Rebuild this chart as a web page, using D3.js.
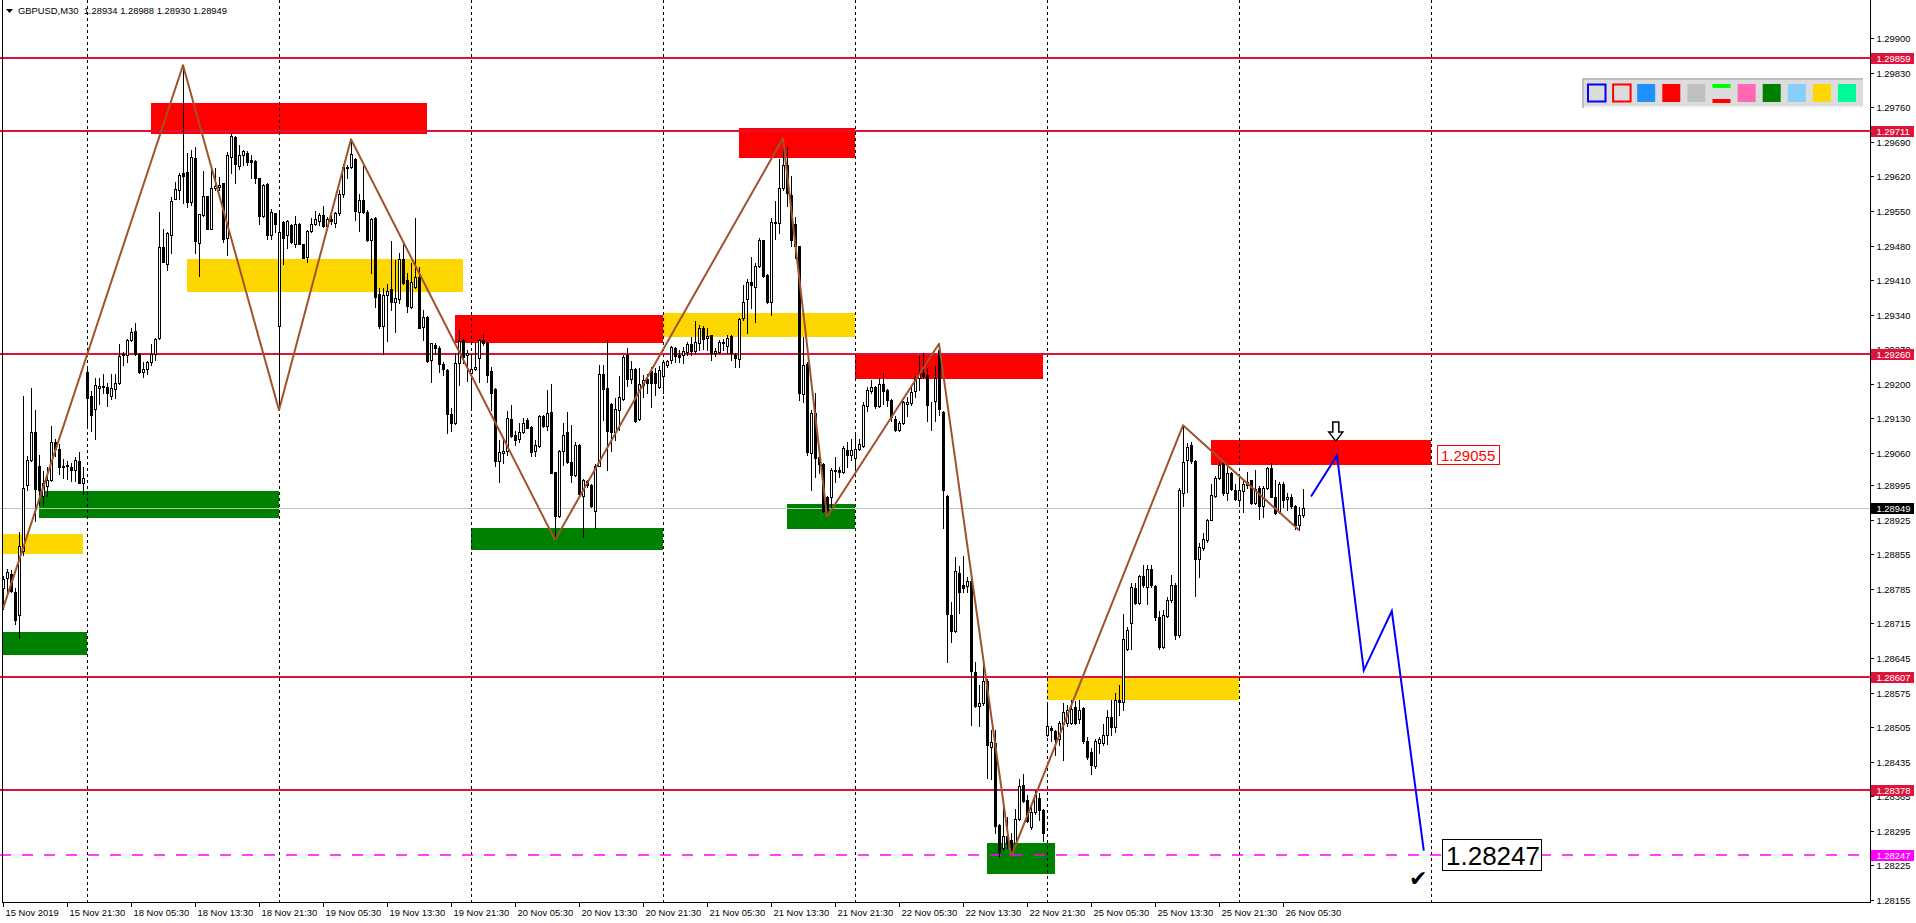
<!DOCTYPE html>
<html><head><meta charset="utf-8">
<script src="https://cdn.jsdelivr.net/npm/d3@7"></script>
<style>html,body{margin:0;padding:0;background:#fff;overflow:hidden}</style>
</head><body>
<svg id="c" width="1916" height="923"></svg>
<script>
// ---- DATA (GBPUSD M30, bar index 0 = 15 Nov 2019 13:30) ----
const opens=[1.28787,1.28807,1.28816,1.28779,1.28731,1.28861,1.28996,1.29045,1.29103,1.29033,
1.28973,1.28994,1.29006,1.29083,1.29068,1.29033,1.29034,1.29031,1.29025,1.29044,
1.29000,1.29223,1.29176,1.29150,1.29192,1.29195,1.29194,1.29176,1.29190,1.29202,
1.29258,1.29258,1.29289,1.29306,1.29260,1.29223,1.29229,1.29244,1.29260,1.29293,
1.29477,1.29442,1.29502,1.29575,1.29592,1.29626,1.29628,1.29568,1.29657,1.29486,
1.29541,1.29580,1.29513,1.29597,1.29599,1.29606,1.29495,1.29660,1.29700,1.29641,
1.29663,1.29668,1.29653,1.29651,1.29616,1.29539,1.29605,1.29501,1.29545,1.29317,
1.29528,1.29502,1.29521,1.29484,1.29524,1.29483,1.29457,1.29510,1.29524,1.29530,
1.29541,1.29519,1.29533,1.29526,1.29545,1.29584,1.29636,1.29638,1.29656,1.29548,
1.29573,1.29548,1.29491,1.29535,1.29381,1.29317,1.29379,1.29391,1.29366,1.29371,
1.29452,1.29410,1.29356,1.29396,1.29416,1.29315,1.29336,1.29248,1.29279,1.29273,
1.29241,1.29228,1.29138,1.29120,1.29242,1.29289,1.29259,1.29222,1.29230,1.29252,
1.29289,1.29282,1.29225,1.29189,1.29043,1.29060,1.29063,1.29129,1.29097,1.29088,
1.29103,1.29126,1.29113,1.29063,1.29075,1.29134,1.29115,1.29143,1.29021,1.28933,
1.29065,1.29103,1.29041,1.29016,1.29076,1.28973,1.29004,1.28995,1.28943,1.29034,
1.29220,1.29191,1.29159,1.29103,1.29146,1.29169,1.29259,1.29209,1.29230,1.29128,
1.29198,1.29209,1.29225,1.29222,1.29193,1.29216,1.29238,1.29249,1.29272,1.29259,
1.29258,1.29265,1.29280,1.29267,1.29283,1.29314,1.29292,1.29299,1.29262,1.29265,
1.29282,1.29276,1.29297,1.29258,1.29251,1.29334,1.29371,1.29407,1.29395,1.29438,
1.29491,1.29420,1.29366,1.29527,1.29526,1.29596,1.29643,1.29582,1.29523,1.29478,
1.29179,1.29241,1.29059,1.29140,1.29052,1.29037,1.28971,1.28971,1.29023,1.29025,
1.29022,1.29067,1.29056,1.29049,1.29069,1.29074,1.29155,1.29186,1.29194,1.29155,
1.29199,1.29187,1.29168,1.29129,1.29107,1.29121,1.29160,1.29161,1.29185,1.29211,
1.29222,1.29218,1.29160,1.29166,1.29269,1.29143,1.28972,1.28732,1.28699,1.28818,
1.28793,1.28790,1.28800,1.28616,1.28548,1.28553,1.28598,1.28465,1.28473,1.28307,
1.28260,1.28284,1.28277,1.28271,1.28319,1.28387,1.28358,1.28302,1.28333,1.28362,
1.28337,1.28490,1.28504,1.28497,1.28480,1.28511,1.28514,1.28514,1.28546,1.28521,
1.28544,1.28476,1.28455,1.28427,1.28473,1.28473,1.28490,1.28525,1.28505,1.28560,
1.28555,1.28664,1.28715,1.28786,1.28757,1.28811,1.28789,1.28826,1.28790,1.28728,
1.28667,1.28730,1.28762,1.28792,1.28691,1.28978,1.29046,1.29076,1.29043,1.28846,
1.28867,1.28884,1.28925,1.28973,1.29010,1.29039,1.28979,1.29020,1.28986,1.28964,
1.28983,1.28995,1.29005,1.28959,1.28990,1.28952,1.28990,1.29029,1.28971,1.28941,
1.28997,1.28966,1.28971,1.28952,1.28914,1.28934];
const highs=[1.28810,1.28826,1.28824,1.28787,1.28901,1.29175,1.29054,1.29192,1.29148,1.29056,
1.29024,1.29031,1.29114,1.29089,1.29078,1.29047,1.29044,1.29039,1.29051,1.29062,
1.29031,1.29233,1.29186,1.29211,1.29212,1.29219,1.29202,1.29219,1.29219,1.29281,
1.29264,1.29290,1.29314,1.29323,1.29262,1.29244,1.29247,1.29281,1.29292,1.29547,
1.29513,1.29507,1.29579,1.29609,1.29626,1.29845,1.29667,1.29673,1.29680,1.29543,
1.29630,1.29581,1.29638,1.29636,1.29618,1.29606,1.29670,1.29708,1.29701,1.29683,
1.29674,1.29671,1.29663,1.29653,1.29617,1.29604,1.29607,1.29554,1.29546,1.29548,
1.29530,1.29531,1.29524,1.29540,1.29526,1.29484,1.29511,1.29535,1.29550,1.29546,
1.29560,1.29538,1.29541,1.29547,1.29593,1.29646,1.29643,1.29695,1.29657,1.29585,
1.29641,1.29551,1.29535,1.29537,1.29393,1.29393,1.29403,1.29489,1.29450,1.29465,
1.29485,1.29425,1.29444,1.29535,1.29437,1.29350,1.29337,1.29283,1.29282,1.29276,
1.29244,1.29230,1.29151,1.29262,1.29308,1.29290,1.29269,1.29260,1.29282,1.29290,
1.29301,1.29284,1.29235,1.29191,1.29087,1.29087,1.29144,1.29157,1.29105,1.29120,
1.29130,1.29130,1.29115,1.29087,1.29137,1.29137,1.29188,1.29200,1.29022,1.29066,
1.29120,1.29142,1.29117,1.29083,1.29078,1.29007,1.29006,1.28997,1.29037,1.29238,
1.29238,1.29289,1.29161,1.29171,1.29215,1.29259,1.29272,1.29247,1.29232,1.29232,
1.29218,1.29220,1.29235,1.29232,1.29236,1.29248,1.29249,1.29276,1.29275,1.29268,
1.29275,1.29285,1.29295,1.29327,1.29319,1.29317,1.29312,1.29299,1.29272,1.29289,
1.29290,1.29299,1.29299,1.29262,1.29334,1.29400,1.29413,1.29457,1.29444,1.29496,
1.29491,1.29422,1.29536,1.29570,1.29656,1.29697,1.29680,1.29621,1.29538,1.29479,
1.29295,1.29245,1.29147,1.29181,1.29054,1.29039,1.28973,1.29029,1.29052,1.29032,
1.29074,1.29083,1.29089,1.29096,1.29089,1.29164,1.29194,1.29208,1.29195,1.29211,
1.29221,1.29189,1.29170,1.29135,1.29124,1.29166,1.29173,1.29194,1.29215,1.29257,
1.29262,1.29232,1.29163,1.29236,1.29281,1.29145,1.28974,1.28758,1.28849,1.28832,
1.28852,1.28809,1.28804,1.28636,1.28591,1.28629,1.28602,1.28500,1.28500,1.28309,
1.28344,1.28323,1.28291,1.28340,1.28399,1.28410,1.28368,1.28347,1.28375,1.28371,
1.28340,1.28553,1.28507,1.28500,1.28518,1.28553,1.28549,1.28560,1.28558,1.28560,
1.28546,1.28486,1.28462,1.28480,1.28486,1.28511,1.28540,1.28560,1.28575,1.28590,
1.28735,1.28708,1.28796,1.28797,1.28813,1.28833,1.28833,1.28834,1.28792,1.28740,
1.28742,1.28769,1.28813,1.28796,1.28990,1.29116,1.29081,1.29083,1.29045,1.28878,
1.28897,1.28927,1.28998,1.29013,1.29042,1.29043,1.29032,1.29022,1.28998,1.29013,
1.29006,1.29022,1.29006,1.29025,1.28993,1.28993,1.29032,1.29039,1.29005,1.29002,
1.29002,1.28978,1.28977,1.28954,1.28951,1.28988];
const lows=[1.28745,1.28779,1.28779,1.28713,1.28686,1.28853,1.28985,1.29043,1.28923,1.28954,
1.28954,1.28973,1.29004,1.29054,1.29018,1.29010,1.29008,1.29003,1.29004,1.28999,
1.28977,1.29117,1.29105,1.29089,1.29159,1.29182,1.29155,1.29169,1.29171,1.29200,
1.29238,1.29244,1.29287,1.29258,1.29222,1.29213,1.29219,1.29238,1.29248,1.29291,
1.29446,1.29430,1.29465,1.29574,1.29574,1.29566,1.29557,1.29562,1.29465,1.29419,
1.29540,1.29513,1.29513,1.29593,1.29592,1.29487,1.29460,1.29626,1.29607,1.29635,
1.29643,1.29643,1.29616,1.29607,1.29524,1.29538,1.29494,1.29494,1.29508,1.29147,
1.29443,1.29474,1.29485,1.29477,1.29483,1.29454,1.29447,1.29508,1.29521,1.29521,
1.29518,1.29518,1.29524,1.29518,1.29541,1.29578,1.29616,1.29636,1.29531,1.29510,
1.29545,1.29489,1.29425,1.29356,1.29313,1.29261,1.29287,1.29349,1.29305,1.29363,
1.29403,1.29346,1.29354,1.29393,1.29312,1.29288,1.29244,1.29204,1.29261,1.29224,
1.29217,1.29101,1.29105,1.29119,1.29198,1.29242,1.29205,1.29154,1.29228,1.29203,
1.29279,1.29203,1.29147,1.29033,1.29002,1.29039,1.29056,1.29093,1.29076,1.29083,
1.29101,1.29110,1.29054,1.29053,1.29073,1.29113,1.29107,1.29019,1.28884,1.28931,
1.29036,1.29039,1.29002,1.29014,1.28975,1.28889,1.28992,1.28951,1.28909,1.29033,
1.29127,1.29026,1.29063,1.29087,1.29107,1.29167,1.29196,1.29201,1.29122,1.29127,
1.29174,1.29181,1.29153,1.29178,1.29191,1.29181,1.29234,1.29243,1.29245,1.29245,
1.29243,1.29258,1.29258,1.29263,1.29268,1.29270,1.29268,1.29249,1.29256,1.29263,
1.29268,1.29262,1.29249,1.29234,1.29234,1.29329,1.29302,1.29353,1.29326,1.29437,
1.29417,1.29363,1.29339,1.29494,1.29506,1.29592,1.29559,1.29478,1.29454,1.29167,
1.29164,1.29056,1.28985,1.29012,1.29019,1.28941,1.28931,1.28951,1.29002,1.29012,
1.29020,1.29032,1.29046,1.29032,1.29066,1.29072,1.29145,1.29182,1.29152,1.29154,
1.29160,1.29156,1.29124,1.29105,1.29105,1.29119,1.29135,1.29157,1.29173,1.29187,
1.29211,1.29124,1.29107,1.29124,1.29136,1.28908,1.28636,1.28678,1.28697,1.28737,
1.28779,1.28779,1.28509,1.28546,1.28507,1.28549,1.28402,1.28400,1.28291,1.28243,
1.28257,1.28260,1.28243,1.28267,1.28316,1.28354,1.28313,1.28298,1.28330,1.28316,
1.28274,1.28487,1.28476,1.28448,1.28469,1.28439,1.28507,1.28511,1.28511,1.28514,
1.28473,1.28441,1.28410,1.28422,1.28452,1.28469,1.28470,1.28490,1.28495,1.28530,
1.28540,1.28662,1.28664,1.28755,1.28754,1.28789,1.28755,1.28789,1.28722,1.28664,
1.28666,1.28728,1.28759,1.28684,1.28688,1.28952,1.28981,1.29039,1.28770,1.28809,
1.28863,1.28880,1.28924,1.28971,1.29008,1.28975,1.28965,1.28986,1.28964,1.28956,
1.28941,1.28990,1.28956,1.28956,1.28927,1.28931,1.28988,1.28970,1.28936,1.28939,
1.28950,1.28944,1.28948,1.28907,1.28904,1.28930];
const closes=[1.28804,1.28820,1.28781,1.28721,1.28871,1.28990,1.29045,1.29103,1.28987,1.28986,
1.29000,1.29006,1.29083,1.29068,1.29031,1.29032,1.29035,1.29026,1.29045,1.29000,
1.29010,1.29171,1.29137,1.29198,1.29196,1.29194,1.29182,1.29192,1.29202,1.29256,
1.29260,1.29289,1.29304,1.29260,1.29223,1.29229,1.29244,1.29261,1.29291,1.29477,
1.29447,1.29506,1.29571,1.29595,1.29623,1.29620,1.29568,1.29659,1.29489,1.29543,
1.29581,1.29513,1.29596,1.29601,1.29603,1.29494,1.29663,1.29701,1.29644,1.29663,
1.29671,1.29649,1.29649,1.29616,1.29539,1.29602,1.29501,1.29547,1.29523,1.29508,
1.29495,1.29530,1.29487,1.29524,1.29484,1.29455,1.29509,1.29524,1.29533,1.29541,
1.29519,1.29533,1.29529,1.29545,1.29584,1.29639,1.29638,1.29666,1.29550,1.29573,
1.29548,1.29491,1.29533,1.29375,1.29317,1.29379,1.29388,1.29366,1.29373,1.29452,
1.29404,1.29357,1.29406,1.29416,1.29314,1.29336,1.29246,1.29282,1.29273,1.29241,
1.29229,1.29138,1.29120,1.29242,1.29286,1.29255,1.29262,1.29230,1.29234,1.29288,
1.29282,1.29218,1.29182,1.29043,1.29062,1.29064,1.29130,1.29095,1.29087,1.29103,
1.29120,1.29111,1.29061,1.29076,1.29134,1.29115,1.29141,1.29020,1.28933,1.29065,
1.29097,1.29041,1.29016,1.29076,1.28976,1.29006,1.28995,1.28952,1.29034,1.29220,
1.29189,1.29105,1.29103,1.29149,1.29173,1.29254,1.29209,1.29230,1.29124,1.29200,
1.29208,1.29201,1.29201,1.29201,1.29227,1.29245,1.29247,1.29275,1.29256,1.29255,
1.29266,1.29280,1.29267,1.29285,1.29314,1.29290,1.29297,1.29262,1.29266,1.29285,
1.29285,1.29292,1.29262,1.29253,1.29332,1.29366,1.29407,1.29400,1.29438,1.29491,
1.29418,1.29366,1.29527,1.29525,1.29596,1.29643,1.29587,1.29492,1.29478,1.29181,
1.29239,1.29062,1.29140,1.29049,1.29037,1.28943,1.28944,1.29025,1.29025,1.29022,
1.29071,1.29056,1.29066,1.29069,1.29079,1.29157,1.29187,1.29194,1.29155,1.29199,
1.29186,1.29168,1.29133,1.29107,1.29121,1.29163,1.29163,1.29184,1.29211,1.29222,
1.29215,1.29157,1.29159,1.29211,1.29149,1.28985,1.28734,1.28699,1.28821,1.28779,
1.28786,1.28800,1.28619,1.28547,1.28554,1.28598,1.28469,1.28474,1.28305,1.28253,
1.28284,1.28271,1.28257,1.28319,1.28385,1.28356,1.28314,1.28333,1.28368,1.28337,
1.28291,1.28507,1.28500,1.28480,1.28514,1.28535,1.28539,1.28542,1.28514,1.28539,
1.28476,1.28445,1.28429,1.28476,1.28480,1.28490,1.28525,1.28505,1.28560,1.28555,
1.28684,1.28701,1.28789,1.28757,1.28811,1.28792,1.28826,1.28792,1.28728,1.28667,
1.28732,1.28763,1.28792,1.28691,1.28985,1.29042,1.29072,1.29044,1.28846,1.28870,
1.28885,1.28925,1.28975,1.29010,1.29035,1.28978,1.29020,1.28988,1.28966,1.28985,
1.28997,1.29002,1.28959,1.28988,1.28952,1.28990,1.29029,1.28971,1.28939,1.28997,
1.28965,1.28971,1.28952,1.28914,1.28935,1.28949];

const timeLabels=["15 Nov 2019","15 Nov 21:30","18 Nov 05:30","18 Nov 13:30","18 Nov 21:30","19 Nov 05:30","19 Nov 13:30","19 Nov 21:30","20 Nov 05:30","20 Nov 13:30","20 Nov 21:30","21 Nov 05:30","21 Nov 13:30","21 Nov 21:30","22 Nov 05:30","22 Nov 13:30","22 Nov 21:30","25 Nov 05:30","25 Nov 13:30","25 Nov 21:30","26 Nov 05:30"];
const dayStartBars=[21,69,117,165,213,261,309,357];
const priceTicks=[1.29900,1.29830,1.29760,1.29690,1.29620,1.29550,1.29480,1.29410,1.29340,1.29270,1.29200,1.29130,1.29060,1.28995,1.28925,1.28855,1.28785,1.28715,1.28645,1.28575,1.28505,1.28435,1.28365,1.28295,1.28225,1.28155];
const levelLines=[1.29859,1.29711,1.29260,1.28607,1.28378];
const targetLevel=1.28247;
const bidLevel=1.28949;
const header="GBPUSD,M30  1.28934 1.28988 1.28930 1.28949";
// zones: [fromBar, toBar, topPrice, bottomPrice]
const supplyZones=[[37,106,1.29768,1.29705],[184,213,1.29718,1.29658],[113,165,1.29339,1.29283],[213,260,1.29262,1.29210],[302,357,1.29086,1.29036]];
const pivotZones=[[0,20,1.28896,1.28855],[46,115,1.29453,1.29386],[165,213,1.29343,1.29295],[261,309,1.28606,1.28559]];
const demandZones=[[0,21,1.28698,1.28651],[9,69,1.28983,1.28929],[117,165,1.28909,1.28864],[196,213,1.28957,1.28907],[246,263,1.28270,1.28208]];
const zigzag=[[0,1.28745],[45,1.29845],[69,1.29147],[87,1.29695],[138,1.28884],[195,1.29697],[206,1.28931],[234,1.29281],[252,1.28243],[295,1.29116],[324,1.28904]];
const projection=[[327,1.28972],[333.5,1.29055],[340.2,1.28620],[347.2,1.28740],[355.2,1.28255]];
const entryPrice=1.29055, entryLabelBar=358.5;
const targetLabelBar=359.8;
const arrowBar=333.2, arrowPrice=1.29084;
const checkBar=353.8, checkPrice=1.28200;
const paletteColors=["#dcdcdc","#dcdcdc","#1e90ff","#ff0000","#c0c0c0","split","#ff69b4","#008000","#87cefa","#ffd700","#00fa9a"];

// ---- DRAW ----
const W=1916,H=923,plotR=1870,plotB=902;
const x=d3.scaleLinear().domain([0,357]).range([3,1431]);
const y=d3.scaleLinear().domain([1.28151,1.29977]).range([902,0]);
const F="'Liberation Sans', Arial, sans-serif";
const svg=d3.select('#c');
svg.append('rect').attr('width',W).attr('height',H).attr('fill','#fff');
svg.append('clipPath').attr('id','pc').append('rect').attr('x',0).attr('y',0).attr('width',plotR).attr('height',plotB);
const g=svg.append('g').attr('clip-path','url(#pc)');

function zones(arr,color){
  g.selectAll(null).data(arr).enter().append('rect')
   .attr('x',d=>Math.round(x(d[0]))).attr('width',d=>Math.round(x(d[1]))-Math.round(x(d[0])))
   .attr('y',d=>Math.round(y(d[2]))).attr('height',d=>Math.round(y(d[3]))-Math.round(y(d[2])))
   .attr('fill',color);
}
zones(pivotZones,'#ffd700');
zones(demandZones,'#008000');
zones(supplyZones,'#ff0000');

// day separators
g.selectAll(null).data(dayStartBars).enter().append('line')
 .attr('x1',d=>Math.round(x(d))+0.5).attr('x2',d=>Math.round(x(d))+0.5)
 .attr('y1',0).attr('y2',plotB).attr('stroke','#000').attr('stroke-width',1).attr('stroke-dasharray','3,3');

// level lines
g.selectAll(null).data(levelLines).enter().append('line')
 .attr('x1',0).attr('x2',plotR).attr('y1',d=>Math.round(y(d))).attr('y2',d=>Math.round(y(d)))
 .attr('stroke','#dc143c').attr('stroke-width',2);
g.append('line').attr('x1',0).attr('x2',plotR).attr('y1',Math.round(y(targetLevel))).attr('y2',Math.round(y(targetLevel)))
 .attr('stroke','#ff00ff').attr('stroke-width',1.5).attr('stroke-dasharray','11,11');
g.append('line').attr('x1',0).attr('x2',plotR).attr('y1',Math.round(y(bidLevel))+0.5).attr('y2',Math.round(y(bidLevel))+0.5)
 .attr('stroke','#c0c0c0').attr('stroke-width',1);

// candles
const bars=d3.range(opens.length);
const cg=g.append('g');
cg.selectAll(null).data(bars).enter().append('line')
 .attr('x1',i=>Math.round(x(i))+0.5).attr('x2',i=>Math.round(x(i))+0.5)
 .attr('y1',i=>Math.round(y(highs[i]))).attr('y2',i=>Math.round(y(lows[i]))+1)
 .attr('stroke','#000').attr('stroke-width',1);
cg.selectAll(null).data(bars).enter().append('rect')
 .attr('x',i=>Math.round(x(i))-0.5).attr('width',2)
 .attr('y',i=>Math.round(y(Math.max(opens[i],closes[i])))+0.5)
 .attr('height',i=>Math.max(0,Math.round(y(Math.min(opens[i],closes[i])))-Math.round(y(Math.max(opens[i],closes[i])))))
 .attr('fill',i=>closes[i]>=opens[i]?'#fff':'#000').attr('stroke','#000').attr('stroke-width',1);

// zigzag & projection
const ln=d3.line().x(d=>x(d[0])).y(d=>y(d[1]));
g.append('path').attr('d',ln(zigzag)).attr('fill','none').attr('stroke','#a0522d').attr('stroke-width',2).attr('stroke-linejoin','round');
g.append('path').attr('d',ln(projection)).attr('fill','none').attr('stroke','#0000ff').attr('stroke-width',2);

// arrow (hollow down arrow)
{
  const ax=x(arrowBar), ay=y(arrowPrice);
  const p=[[ax-3,ay-19],[ax+3,ay-19],[ax+3,ay-9],[ax+7,ay-9],[ax,ay],[ax-7,ay-9],[ax-3,ay-9]];
  g.append('path').attr('d','M'+p.map(q=>q.join(',')).join('L')+'Z').attr('fill','#fff').attr('stroke','#000').attr('stroke-width',1.5);
}
// check mark
g.append('text').attr('x',x(checkBar)).attr('y',y(checkPrice)+8).attr('text-anchor','middle')
 .attr('font-family',"'DejaVu Sans',sans-serif").attr('font-size',22).attr('fill','#000').text('\u2714');

// entry label
{
  const ex=Math.round(x(entryLabelBar)), ey=Math.round(y(entryPrice));
  g.append('rect').attr('x',ex+0.5).attr('y',ey-9.5).attr('width',62).attr('height',19).attr('fill','#fff').attr('stroke','#ff0000');
  g.append('text').attr('x',ex+4).attr('y',ey+5.5).attr('font-family',F).attr('font-size',15).attr('fill','#ff0000').text(d3.format('.5f')(entryPrice));
  const tx=Math.round(x(targetLabelBar)), ty=Math.round(y(targetLevel));
  g.append('rect').attr('x',tx+0.5).attr('y',ty-15.5).attr('width',99).attr('height',31).attr('fill','#fff').attr('stroke','#000');
  g.append('text').attr('x',tx+4).attr('y',ty+9.5).attr('font-family',F).attr('font-size',26).attr('fill','#000').text(d3.format('.5f')(targetLevel));
}

// palette toolbar
{
  const pg=svg.append('g');
  pg.append('rect').attr('x',1582).attr('y',78).attr('width',281).attr('height',30).attr('fill','#dcdcdc');
  pg.append('rect').attr('x',1582).attr('y',78).attr('width',281).attr('height',2).attr('fill','#bebebe');
  pg.append('rect').attr('x',1582).attr('y',78).attr('width',2).attr('height',30).attr('fill','#bebebe');
  pg.append('rect').attr('x',1584).attr('y',106).attr('width',279).attr('height',2).attr('fill','#f4f4f4');
  paletteColors.forEach((c,k)=>{
    const px=1587+25.1*k;
    if(k===0||k===1){
      pg.append('rect').attr('x',px+1).attr('y',84.5).attr('width',17.5).attr('height',17).attr('fill','#dcdcdc')
        .attr('stroke',k===0?'#0000ff':'#ff0000').attr('stroke-width',2);
    } else if(c==='split'){
      pg.append('rect').attr('x',px).attr('y',84).attr('width',18).attr('height',4).attr('fill','#00ff00');
      pg.append('rect').attr('x',px).attr('y',99).attr('width',18).attr('height',4).attr('fill','#ff0000');
    } else {
      pg.append('rect').attr('x',px).attr('y',84).attr('width',18).attr('height',18).attr('fill',c);
    }
  });
}

// header
svg.append('path').attr('d','M6,9L13,9L9.5,13Z').attr('fill','#000');
svg.append('text').attr('x',18).attr('y',14).attr('font-family',F).attr('font-size',9.4).attr('fill','#000')
 .attr('xml:space','preserve').style('white-space','pre').text(header);

// frame & axes
svg.append('line').attr('x1',2.5).attr('x2',2.5).attr('y1',0).attr('y2',plotB).attr('stroke','#000');
svg.append('line').attr('x1',plotR+0.5).attr('x2',plotR+0.5).attr('y1',0).attr('y2',plotB+1).attr('stroke','#000');
svg.append('line').attr('x1',2).attr('x2',plotR+1).attr('y1',plotB+0.5).attr('y2',plotB+0.5).attr('stroke','#000');

// y ticks
const yt=svg.append('g');
priceTicks.forEach(v=>{
  const yy=Math.round(y(v))+0.5;
  yt.append('line').attr('x1',plotR).attr('x2',plotR+4).attr('y1',yy).attr('y2',yy).attr('stroke','#000');
  yt.append('text').attr('x',plotR+6.5).attr('y',yy+3.5).attr('font-family',F).attr('font-size',9.4).attr('fill','#000').text(d3.format('.5f')(v));
});
// x ticks
timeLabels.forEach((t,k)=>{
  const xx=Math.round(x(k*16))+0.5;
  svg.append('line').attr('x1',xx).attr('x2',xx).attr('y1',plotB).attr('y2',plotB+5).attr('stroke','#000');
  svg.append('text').attr('x',xx+2).attr('y',plotB+14).attr('font-family',F).attr('font-size',9.4).attr('fill','#000').text(t);
});

// price labels on axis
function axisLabel(v,bg){
  const yy=Math.round(y(v));
  svg.append('rect').attr('x',plotR+1).attr('y',yy-5).attr('width',43).attr('height',11).attr('fill',bg);
  svg.append('text').attr('x',plotR+6.5).attr('y',yy+4).attr('font-family',F).attr('font-size',9.4).attr('fill','#fff').text(d3.format('.5f')(v));
}
levelLines.forEach(v=>axisLabel(v,'#dc143c'));
axisLabel(targetLevel,'#ff00ff');
axisLabel(bidLevel,'#000');
</script>
</body></html>
